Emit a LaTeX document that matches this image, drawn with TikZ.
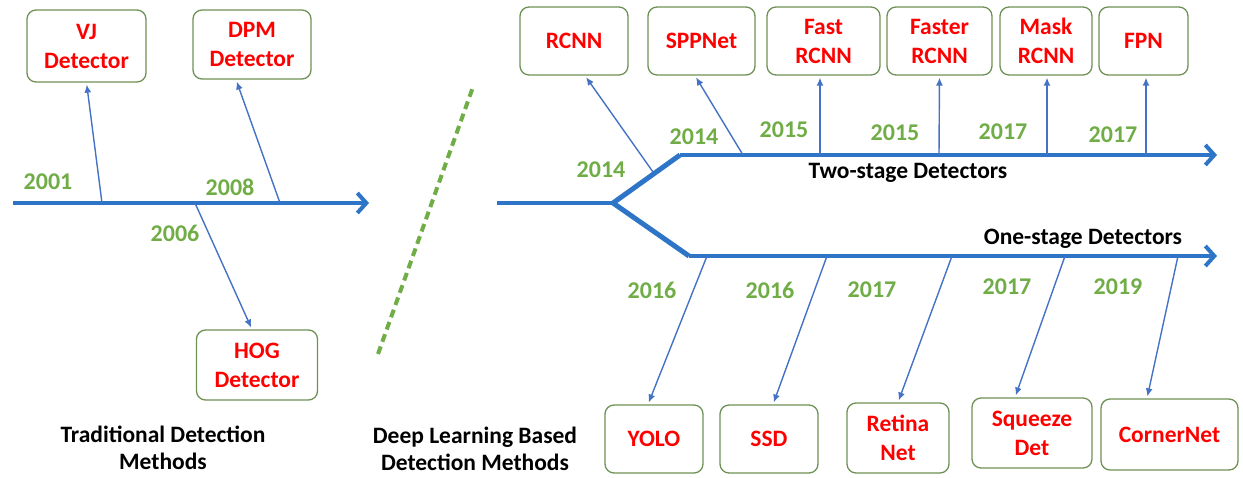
\documentclass[tikz,border=0pt]{standalone}
\usepackage{fontspec}
\setmainfont{Carlito}
\usepackage{xcolor}
\definecolor{spine}{RGB}{46,117,200}
\definecolor{link}{RGB}{68,114,196}
\definecolor{year}{RGB}{112,173,71}
\definecolor{frame}{RGB}{110,145,85}
\definecolor{model}{RGB}{255,0,0}
\usetikzlibrary{positioning, arrows.meta}
\tikzstyle{Box} = [draw=frame, line width=1.3pt, rounded corners=9pt, fill=white,
text=model, font=\fontsize{23.5}{29}\selectfont\bfseries, align=center, inner sep=0pt]
\tikzstyle{Year} = [text=year, font=\fontsize{24}{28}\selectfont\bfseries]
\tikzstyle{Title} = [font=\fontsize{23.5}{27}\selectfont\bfseries, align=center, inner sep=0pt]
\tikzstyle{Arrow} = [draw=link, line width=1.4pt, shorten >=2pt,
-{Latex[length=8pt,width=7pt]}]
\tikzstyle{Spine} = [draw=spine, line width=4pt]
\tikzstyle{SpineArrow} = [Spine, -{Straight Barb[length=9pt,width=20pt,line width=4pt]}]

\begin{document}
\begin{tikzpicture}[x=1pt, y=-1pt]
    \useasboundingbox (0,0) rectangle (1243,477);

    % traditional methods
    \coordinate (s0) at (13,203);
    \coordinate (s1) at (369,203);
    \draw[SpineArrow] (s0) -- (s1);

    \node[Box, minimum width=119, minimum height=72] (1) at (86.5,46) {VJ\\Detector};
    \node[Box, minimum width=118, minimum height=69] (2) at (252,44.5) {DPM\\Detector};
    \node[Box, minimum width=121, minimum height=70] (3) at (257,365) {HOG\\Detector};

    \coordinate (a1) at (102,203);
    \coordinate (a2) at (280,203);
    \coordinate (a3) at (195,203);
    \draw[Arrow] (a1) -- (1.south);
    \draw[Arrow] (a2) -- ([xshift=-16pt]2.south);
    \draw[Arrow] (a3) -- ([xshift=-5pt]3.north);

    \node[Year] (y1) at (48,182) {2001};
    \node[Year] (y2) at (230,187) {2008};
    \node[Year] (y3) at (175,233) {2006};

    \node[Title] (t1) at (163,448) {Traditional Detection\\Methods};

    % divider
    \coordinate (d0) at (378,354);
    \coordinate (d1) at (473,87);
    \draw[year, line width=4pt, dash pattern=on 8pt off 5pt] (d0) -- (d1);

    % deep learning methods
    \coordinate (r0) at (497,203);
    \coordinate (r1) at (613,203);
    \coordinate (u0) at (680,155);
    \coordinate (u1) at (1217,155);
    \coordinate (l0) at (689,256);
    \coordinate (l1) at (1217,256);
    \draw[Spine] (r0) -- (r1);
    \draw[Spine, line width=5pt] (u0) -- (r1) -- (l0);
    \draw[SpineArrow] (u0) -- (u1);
    \draw[SpineArrow] (l0) -- (l1);

    \node[Box, minimum width=108, minimum height=68] (4) at (574,41) {RCNN};
    \node[Box, minimum width=107, minimum height=68] (5) at (701.5,41) {SPPNet};
    \node[Box, minimum width=113, minimum height=68] (6) at (823.5,41) {Fast\\RCNN};
    \node[Box, minimum width=105, minimum height=68] (7) at (939.5,41) {Faster\\RCNN};
    \node[Box, minimum width=92, minimum height=68] (8) at (1046,41) {Mask\\RCNN};
    \node[Box, minimum width=89, minimum height=68] (9) at (1143.5,41) {FPN};

    \coordinate (a4) at (653,172);
    \coordinate (a5) at (743,155);
    \coordinate (a6) at (820,155);
    \coordinate (a7) at (939,155);
    \coordinate (a8) at (1047,155);
    \coordinate (a9) at (1146,155);
    \draw[Arrow] (a4) -- ([xshift=11pt]4.south);
    \draw[Arrow] (a5) -- ([xshift=-6.5pt]5.south);
    \draw[Arrow] (a6) -- ([xshift=-3.5pt]6.south);
    \draw[Arrow] (a7) -- (7.south);
    \draw[Arrow] (a8) -- ([xshift=1pt]8.south);
    \draw[Arrow] (a9) -- ([xshift=2.5pt]9.south);

    \node[Year] (y4) at (601,170) {2014};
    \node[Year] (y5) at (694,137) {2014};
    \node[Year] (y6) at (784,130) {2015};
    \node[Year] (y7) at (895,133) {2015};
    \node[Year] (y8) at (1003,132) {2017};
    \node[Year] (y9) at (1113,135) {2017};

    \node[Box, minimum width=98, minimum height=68] (10) at (654,439) {YOLO};
    \node[Box, minimum width=98, minimum height=68] (11) at (769,439) {SSD};
    \node[Box, minimum width=102, minimum height=70] (12) at (898,438) {Retina\\Net};
    \node[Box, minimum width=120, minimum height=70] (13) at (1032,433) {Squeeze\\Det};
    \node[Box, minimum width=137, minimum height=71] (14) at (1169.5,434.5) {CornerNet};

    \coordinate (a10) at (707,256);
    \coordinate (a11) at (827,256);
    \coordinate (a12) at (952,256);
    \coordinate (a13) at (1065,256);
    \coordinate (a14) at (1178,256);
    \draw[Arrow] (a10) -- ([xshift=-6pt]10.north);
    \draw[Arrow] (a11) -- ([xshift=4pt]11.north);
    \draw[Arrow] (a12) -- (12.north);
    \draw[Arrow] (a13) -- ([xshift=-17pt]13.north);
    \draw[Arrow] (a14) -- ([xshift=-22.5pt]14.north);

    \node[Year] (y10) at (652,290) {2016};
    \node[Year] (y11) at (770,290) {2016};
    \node[Year] (y12) at (872,290) {2017};
    \node[Year] (y13) at (1007,287) {2017};
    \node[Year] (y14) at (1118,287) {2019};

    \node[Title] (t2) at (908,173) {Two-stage Detectors};
    \node[Title] (t3) at (1083,239) {One-stage Detectors};
    \node[Title] (t4) at (475,449) {Deep Learning Based\\Detection Methods};
\end{tikzpicture}
\end{document}
